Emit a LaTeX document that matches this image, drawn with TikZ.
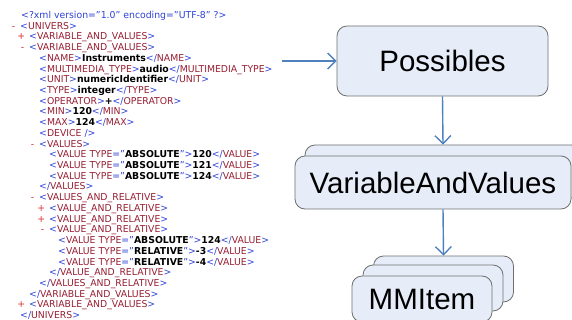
\documentclass[tikz,border=0pt]{standalone}
\usepackage{fontspec}
\setmainfont[FakeStretch=0.98]{DejaVu Sans}
\newfontfamily\boxfont{Liberation Sans}
\usetikzlibrary{arrows.meta}

\definecolor{xmlblue}{RGB}{45,65,215}
\definecolor{xmltag}{RGB}{150,30,50}
\definecolor{xmlmark}{RGB}{220,50,50}
\definecolor{boxfill}{RGB}{231,237,248}
\definecolor{boxline}{RGB}{110,110,110}
\definecolor{arrowblue}{RGB}{79,129,189}

\newcommand{\xmlopen}[1]{\textcolor{xmlblue}{<}\textcolor{xmltag}{#1}\textcolor{xmlblue}{>}}
\newcommand{\xmlclose}[1]{\textcolor{xmlblue}{</}\textcolor{xmltag}{#1}\textcolor{xmlblue}{>}}
\newcommand{\xmlval}[2]{\textcolor{xmlblue}{<}\textcolor{xmltag}{VALUE TYPE}\textcolor{xmlblue}{="}\textbf{#1}\textcolor{xmlblue}{">}\textbf{#2}\xmlclose{VALUE}}
\newcommand{\xmlminus}{\llap{\textcolor{xmlmark}{-}\hspace{5pt}}}
\newcommand{\xmlplus}{\llap{\textcolor{xmlmark}{+}\hspace{4pt}}}

\begin{document}
\begin{tikzpicture}[
            x=1pt, y=-1pt,
            xml/.style={anchor=base west, inner sep=0pt, font=\fontsize{9.5}{11}\selectfont},
            box/.style={draw=boxline, fill=boxfill, line width=0.8pt, rounded corners=10pt, inner sep=0pt, font=\boxfont\fontsize{29.5}{32}\selectfont},
            link/.style={draw=arrowblue, line width=1.4pt, -{Straight Barb[length=8pt,width=16pt]}}
        ]
        \useasboundingbox (0,0) rectangle (572,320);
        \clip (0,0) rectangle (572,320);

        % XML listing
        \node[xml] (l1) at (21, 18.5) {\textcolor{xmlblue}{<?xml version="1.0" encoding="UTF-8" ?>}};
        \node[xml] (l2) at (20, 29.2) {\xmlminus\xmlopen{UNIVERS}};
        \node[xml] (l3) at (29, 39.9) {\xmlplus\xmlopen{VARIABLE\_AND\_VALUES}};
        \node[xml] (l4) at (29, 50.7) {\xmlminus\xmlopen{VARIABLE\_AND\_VALUES}};
        \node[xml] (l5) at (39, 61.4) {\xmlopen{NAME}\textbf{Instruments}\xmlclose{NAME}};
        \node[xml] (l6) at (39, 72.1) {\xmlopen{MULTIMEDIA\_TYPE}\textbf{audio}\xmlclose{MULTIMEDIA\_TYPE}};
        \node[xml] (l7) at (39, 82.8) {\xmlopen{UNIT}\textbf{numericIdentifier}\xmlclose{UNIT}};
        \node[xml] (l8) at (39, 93.5) {\xmlopen{TYPE}\textbf{integer}\xmlclose{TYPE}};
        \node[xml] (l9) at (39, 104.3) {\xmlopen{OPERATOR}\textbf{+}\xmlclose{OPERATOR}};
        \node[xml] (l10) at (39, 115.0) {\xmlopen{MIN}\textbf{120}\xmlclose{MIN}};
        \node[xml] (l11) at (39, 125.7) {\xmlopen{MAX}\textbf{124}\xmlclose{MAX}};
        \node[xml] (l12) at (39, 136.4) {\textcolor{xmlblue}{<}\textcolor{xmltag}{DEVICE}\textcolor{xmlblue}{\ />}};
        \node[xml] (l13) at (39, 147.1) {\xmlminus\xmlopen{VALUES}};
        \node[xml] (l14) at (49, 157.9) {\xmlval{ABSOLUTE}{120}};
        \node[xml] (l15) at (49, 168.6) {\xmlval{ABSOLUTE}{121}};
        \node[xml] (l16) at (49, 179.3) {\xmlval{ABSOLUTE}{124}};
        \node[xml] (l17) at (39, 190.0) {\xmlclose{VALUES}};
        \node[xml] (l18) at (39, 200.7) {\xmlminus\xmlopen{VALUES\_AND\_RELATIVE}};
        \node[xml] (l19) at (49, 211.5) {\xmlplus\xmlopen{VALUE\_AND\_RELATIVE}};
        \node[xml] (l20) at (49, 222.2) {\xmlplus\xmlopen{VALUE\_AND\_RELATIVE}};
        \node[xml] (l21) at (49, 232.9) {\xmlminus\xmlopen{VALUE\_AND\_RELATIVE}};
        \node[xml] (l22) at (58, 243.6) {\xmlval{ABSOLUTE}{124}};
        \node[xml] (l23) at (58, 254.3) {\xmlval{RELATIVE}{-3}};
        \node[xml] (l24) at (58, 265.1) {\xmlval{RELATIVE}{-4}};
        \node[xml] (l25) at (49, 275.8) {\xmlclose{VALUE\_AND\_RELATIVE}};
        \node[xml] (l26) at (39, 286.5) {\xmlclose{VALUES\_AND\_RELATIVE}};
        \node[xml] (l27) at (29, 297.2) {\xmlclose{VARIABLE\_AND\_VALUES}};
        \node[xml] (l28) at (29, 307.9) {\xmlplus\xmlopen{VARIABLE\_AND\_VALUES}};
        \node[xml] (l29) at (20, 318.7) {\xmlclose{UNIVERS}};

        % Possibles
        \node[box, minimum width=211pt, minimum height=70pt] (poss) at (442.5, 61) {Possibles};

        % VariableAndValues (stacked)
        \node[box, minimum width=276pt, minimum height=53pt] (vavback) at (443, 171.5) {};
        \node[box, minimum width=276pt, minimum height=53pt] (vav) at (433, 182.5) {VariableAndValues};

        % MMItem (stacked)
        \node[box, minimum width=140pt, minimum height=46pt] (mmback) at (443.5, 279) {};
        \node[box, minimum width=140pt, minimum height=46pt] (mmmid) at (433, 288) {};
        \node[box, minimum width=140pt, minimum height=46pt] (mm) at (422, 299) {MMItem};

        % Links
        \coordinate (src) at (282, 61);
        \draw[link] (src) -- (poss.west);
        \draw[link] (poss.south) -- (vavback.north);
        \draw[link] (vavback.center |- vav.south) -- (mmback.north);

    \end{tikzpicture}
\end{document}
